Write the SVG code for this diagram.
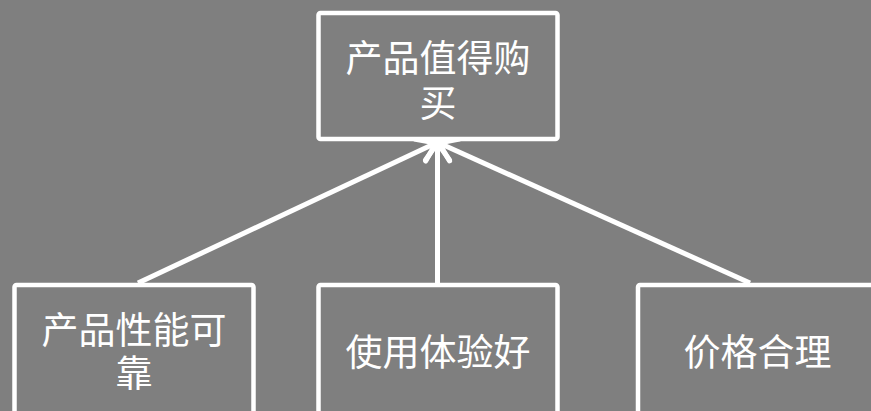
<svg xmlns="http://www.w3.org/2000/svg" width="871" height="411" viewBox="0 0 871 411">
<defs>
<style>
.box{fill:#7f7f7f;stroke:#ffffff;stroke-width:4.5}
.lbl{fill:#ffffff;font-family:"Noto Sans CJK SC","Microsoft YaHei",sans-serif;font-size:37px;text-anchor:middle;dominant-baseline:central}
.edge{stroke:#ffffff;stroke-width:5;fill:none;marker-end:url(#arr)}
</style>
<marker id="arr" markerUnits="userSpaceOnUse" markerWidth="40" markerHeight="40" viewBox="-25 -20 30 40" refX="0" refY="0" orient="auto" overflow="visible">
<path d="M-17,-12 L0,0 L-17,12" fill="none" stroke="#ffffff" stroke-width="5" stroke-linecap="round" stroke-linejoin="round"/>
</marker>
</defs>
<rect width="871" height="411" fill="#7f7f7f"/>
<g id="connectors">
<line class="edge" x1="138" y1="283" x2="436" y2="143"/>
<line class="edge" x1="437.5" y1="283" x2="437.5" y2="143"/>
<line class="edge" x1="750" y1="283" x2="439" y2="143"/>
</g>
<g id="node-top">
<rect class="box" x="318.5" y="13" width="239" height="126" rx="2"/>
<text class="lbl" x="438" y="56">产品值得购<tspan x="438" dy="44.5">买</tspan></text>
</g>
<g id="node-left">
<rect class="box" x="14.5" y="285" width="239" height="132" rx="2"/>
<text class="lbl" x="134" y="327.5">产品性能可<tspan x="134" dy="43.5">靠</tspan></text>
</g>
<g id="node-mid">
<rect class="box" x="318.5" y="285" width="239" height="132" rx="2"/>
<text class="lbl" x="438" y="350">使用体验好</text>
</g>
<g id="node-right">
<rect class="box" x="638" y="285" width="239" height="132" rx="2"/>
<text class="lbl" x="757.5" y="350">价格合理</text>
</g>
</svg>
